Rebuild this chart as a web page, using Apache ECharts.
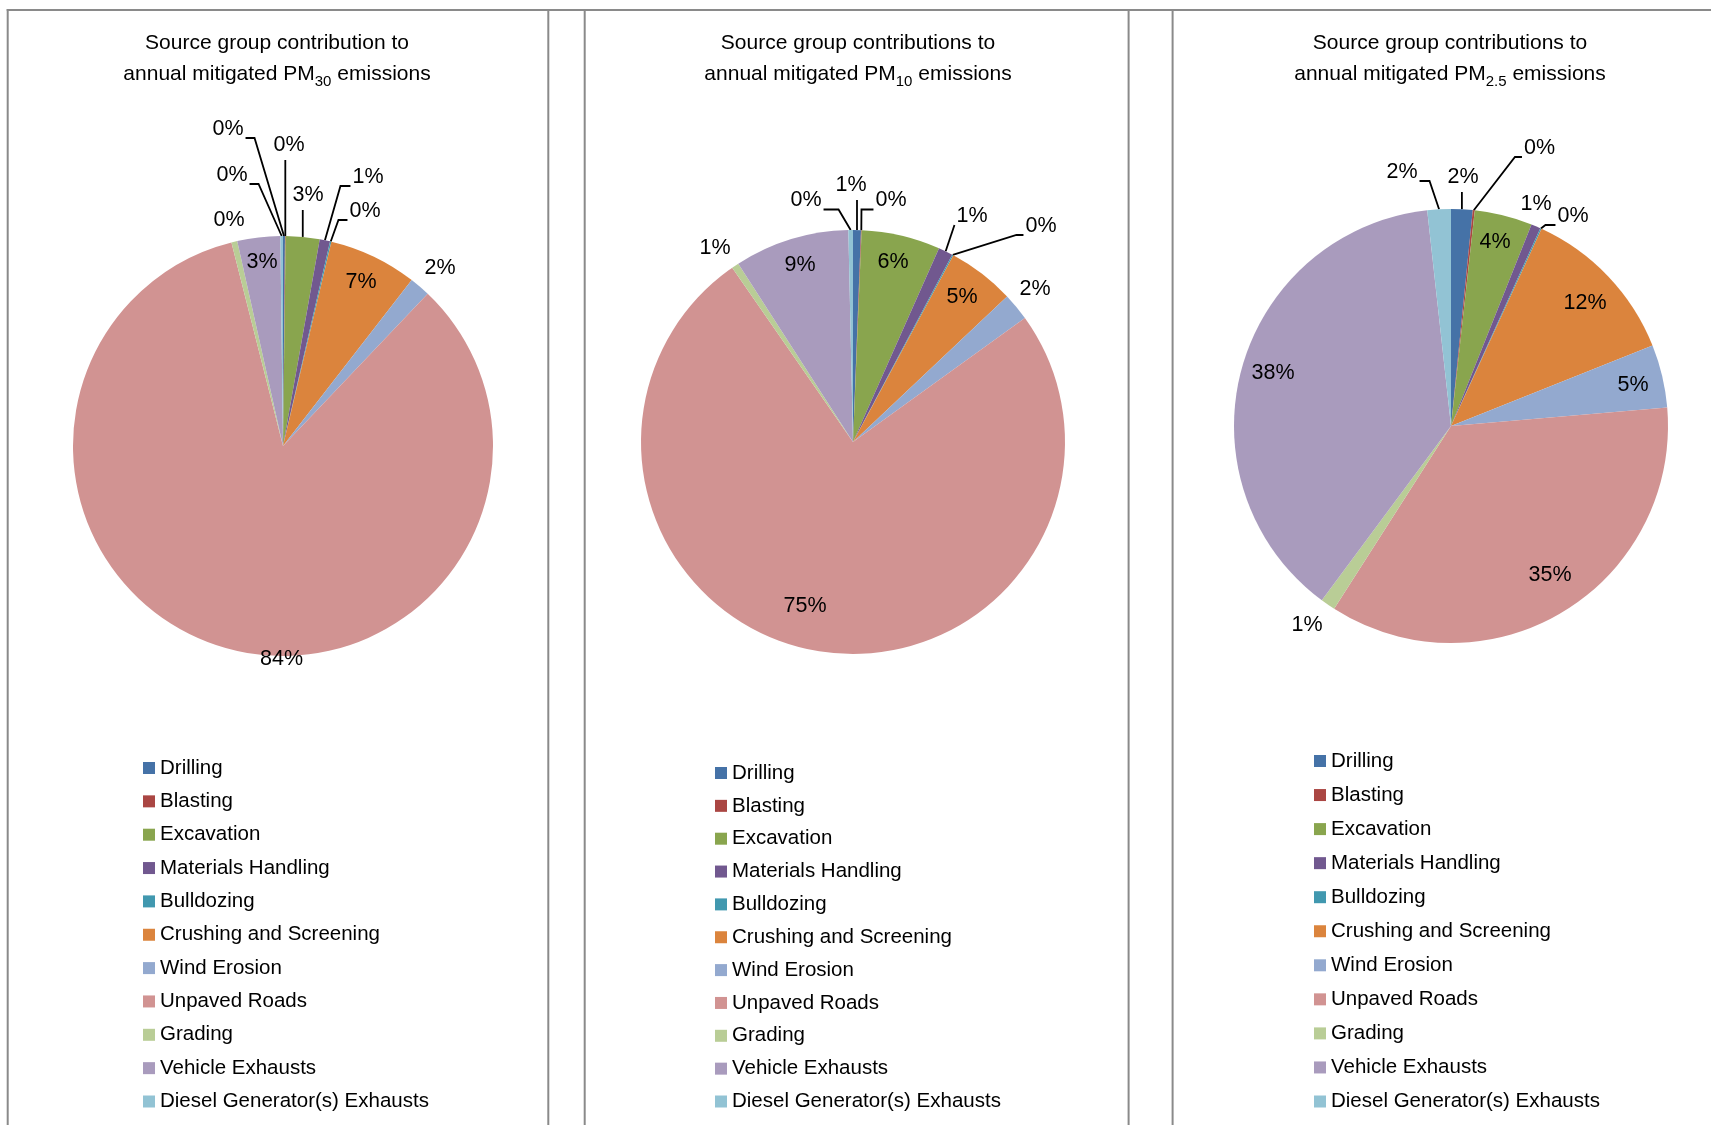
<!DOCTYPE html>
<html>
<head>
<meta charset="utf-8">
<title>Source group contributions to annual mitigated emissions</title>
<script src="https://cdn.jsdelivr.net/npm/echarts@6/dist/echarts.min.js"></script>
<style>
  html, body { margin: 0; padding: 0; background: #ffffff; }
  #chart { width: 1711px; height: 1125px; }
</style>
</head>
<body>
<div id="chart"></div>
<script>
// ---- data -------------------------------------------------------------
const CATEGORIES = [
  'Drilling', 'Blasting', 'Excavation', 'Materials Handling', 'Bulldozing',
  'Crushing and Screening', 'Wind Erosion', 'Unpaved Roads', 'Grading',
  'Vehicle Exhausts', 'Diesel Generator(s) Exhausts'
];

// share of annual mitigated emissions (%), same order as CATEGORIES
const PM30_SHARE = [0.15, 0.05, 2.6, 0.8, 0.1, 6.8, 1.6, 83.95, 0.45, 3.3, 0.2];
const PM10_SHARE = [0.6, 0.05, 6.0, 1.1, 0.1, 5.1, 2.1, 75.3, 0.55, 8.75, 0.35];
const PM25_SHARE = [1.6, 0.15, 4.3, 0.7, 0.1, 12.1, 4.7, 35.4, 1.1, 38.1, 1.75];

const TITLE_FIRST_LINES = [
  'Source group contribution to',
  'Source group contributions to',
  'Source group contributions to'
];
const PM_SUBSCRIPTS = ['30', '10', '2.5'];

// ---- styling ----------------------------------------------------------
const COLORS = [
  '#4572A7', '#AA4643', '#89A54E', '#71588F', '#4198AF', '#DB843D',
  '#93A9CF', '#D19392', '#B9CD96', '#A99BBD', '#92C3D4'
];
const FONT = "'Liberation Sans', Arial, Helvetica, sans-serif";
const BORDER = '#8a8a8a';

// Label placement per slice, relative to the pie centre:
// [dx, dy, guide, elbow]  guide: 'r' line leaves the label's right side,
// 'l' its left side, 'b' its bottom, '' no leader line.
const PANELS = [
  {
    cx: 283, cy: 446, r: 210, titleX: 277,
    legend: { left: 143, top: 757.5, gap: 12.35 },
    spots: [
      [-55, -317, 'r', 9], [6, -301, 'b', 0], [25, -251, 'b', 0], [85, -269, 'l', 10],
      [82, -235, 'l', 9], [78, -164, '', 0], [157, -178, '', 0], [-1.5, 213, '', 0],
      [-54, -226, '', 0], [-21, -184, '', 0], [-51, -271, 'r', 9]
    ]
  },
  {
    cx: 853, cy: 442, r: 212, titleX: 858,
    legend: { left: 715, top: 762.5, gap: 11.85 },
    spots: [
      [-2, -257, 'b', 0], [38, -241.5, 'l', 12], [40, -180, '', 0], [119, -226, 'l', 0],
      [188, -216, 'l', 7], [109, -145, '', 0], [182, -153, '', 0], [-48, 164, '', 0],
      [-138, -194, '', 0], [-53, -177, '', 0], [-47, -241.5, 'r', 15]
    ]
  },
  {
    cx: 1451, cy: 426, r: 217, titleX: 1450,
    legend: { left: 1314, top: 750.5, gap: 13.05 },
    spots: [
      [12, -249, 'b', 0], [88.5, -278, 'l', 7], [44, -184, '', 0], [85, -222, '', 0],
      [122, -210, 'l', 10], [134, -123, '', 0], [182, -41, '', 0], [99, 149, '', 0],
      [-144, 199, '', 0], [-178, -53, '', 0], [-49, -254, 'r', 10]
    ]
  }
];

// panel frame lines
const FRAME_TOP_Y = 10;
const FRAME_X = [7.7, 548.3, 584.7, 1128.6, 1172.6];

// ---- chart ------------------------------------------------------------
const SHARES = [PM30_SHARE, PM10_SHARE, PM25_SHARE];

function makeLabelLayout(panel) {
  return function (p) {
    const s = panel.spots[p.dataIndex];
    const x = panel.cx + s[0];
    const y = panel.cy + s[1];
    const out = { x: x, y: y, align: 'center', verticalAlign: 'middle' };
    const guide = s[2];
    const pts = p.labelLinePoints;
    if (guide && pts && pts.length) {
      const a = pts[0];
      if (guide === 'b') {
        out.labelLinePoints = [[a[0], a[1]], [a[0], y + 15]];
      } else {
        const dir = guide === 'r' ? 1 : -1;
        const hw = p.labelRect.width / 2;
        const ax = x + dir * (hw + 2);
        const ay = y + 9;
        const ex = ax + dir * s[3];
        out.labelLinePoints = [[a[0], a[1]], [ex, ay], [ax, ay]];
      }
    }
    return out;
  };
}

const titles = PANELS.map((pn, i) => ({
  left: pn.titleX,
  top: 27.5,
  textAlign: 'center',
  padding: 0,
  text: TITLE_FIRST_LINES[i] + '\n{m|annual mitigated PM}{s|' + PM_SUBSCRIPTS[i] + '}{m| emissions}',
  textStyle: {
    fontSize: 21, fontWeight: 'normal', color: '#000', fontFamily: FONT, lineHeight: 31,
    rich: {
      m: { fontSize: 21, lineHeight: 31, color: '#000', fontFamily: FONT },
      s: { fontSize: 15, lineHeight: 15, verticalAlign: 'bottom', color: '#000', fontFamily: FONT }
    }
  }
}));

const legends = PANELS.map(pn => ({
  orient: 'vertical',
  left: pn.legend.left,
  top: pn.legend.top,
  itemGap: pn.legend.gap,
  itemWidth: 12,
  itemHeight: 12,
  icon: 'rect',
  padding: 0,
  selectedMode: false,
  data: CATEGORIES,
  itemStyle: { borderWidth: 0 },
  textStyle: { fontSize: 20.5, color: '#000', fontFamily: FONT }
}));

const series = PANELS.map((pn, i) => ({
  type: 'pie',
  center: [pn.cx, pn.cy],
  radius: pn.r,
  startAngle: 90,
  clockwise: true,
  avoidLabelOverlap: false,
  animation: false,
  emphasis: { disabled: true },
  itemStyle: { borderWidth: 0 },
  label: {
    show: true,
    position: 'outside',
    formatter: p => Math.round(p.percent) + '%',
    fontSize: 21.5,
    color: '#000',
    fontFamily: FONT,
    textBorderWidth: 0
  },
  labelLine: { show: true, smooth: false, lineStyle: { color: '#000', width: 1.8 } },
  labelLayout: makeLabelLayout(pn),
  data: CATEGORIES.map((name, k) => ({
    name: name,
    value: SHARES[i][k],
    labelLine: { show: !!pn.spots[k][2] }
  }))
}));

const frame = [
  { type: 'line', shape: { x1: FRAME_X[0] - 1, y1: FRAME_TOP_Y, x2: 1711, y2: FRAME_TOP_Y } }
].concat(FRAME_X.map(x => ({ type: 'line', shape: { x1: x, y1: FRAME_TOP_Y - 1, x2: x, y2: 1125 } })))
 .map(el => Object.assign(el, { silent: true, z: -1, style: { stroke: BORDER, lineWidth: 2 } }));

const chart = echarts.init(document.getElementById('chart'), null, { renderer: 'canvas' });
chart.setOption({
  backgroundColor: '#ffffff',
  color: COLORS,
  animation: false,
  title: titles,
  legend: legends,
  series: series,
  graphic: { elements: frame }
});
</script>
</body>
</html>
